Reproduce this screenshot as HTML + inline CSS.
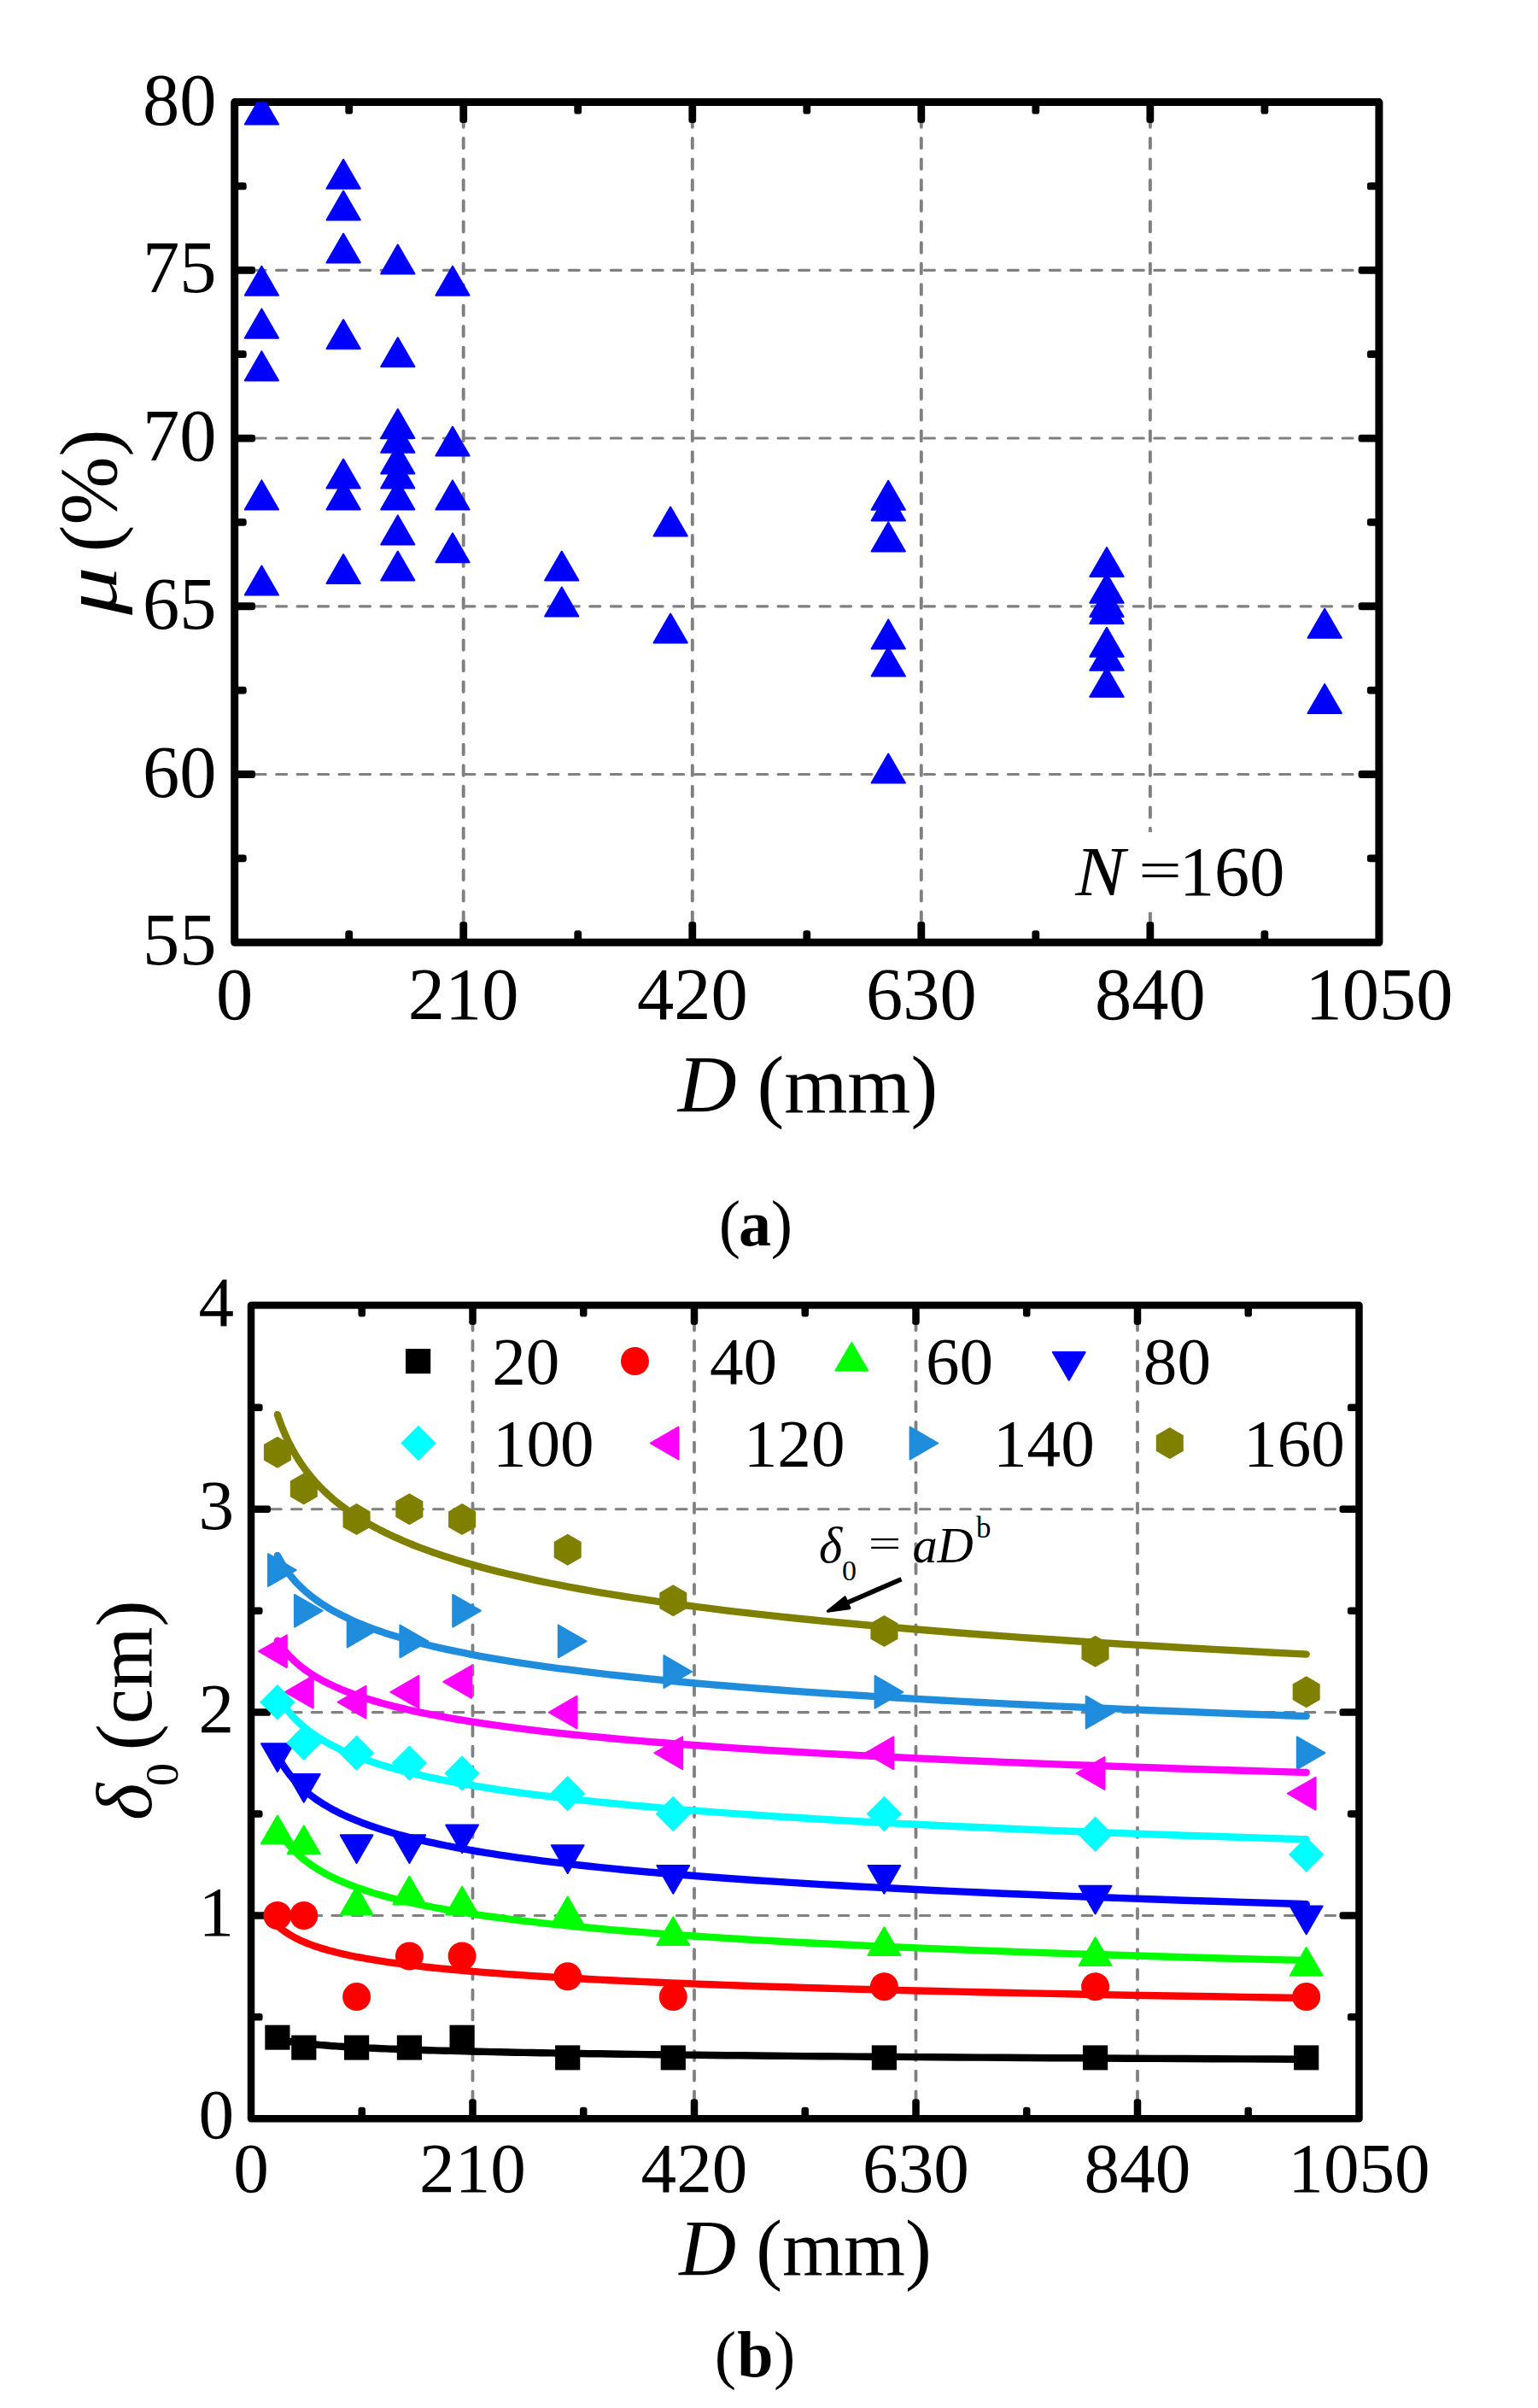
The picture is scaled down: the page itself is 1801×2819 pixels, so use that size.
<!DOCTYPE html>
<html lang="en"><head><meta charset="utf-8"><title>Figure</title>
<style>html,body{margin:0;padding:0;background:#fff}svg{display:block}</style></head>
<body>
<svg width="1801" height="2819" viewBox="0 0 1801 2819" font-family="'Liberation Serif', 'Times New Roman', serif">
<rect width="1801" height="2819" fill="#fff"/>
<defs><clipPath id="ca"><rect x="274.7" y="119.6" width="1340.2" height="983.6"/></clipPath></defs>
<path d="M542.7,137.4V1097.2M810.8,137.4V1097.2M1078.8,137.4V1097.2M1346.9,137.4V1097.2" stroke="#808080" stroke-width="3.90" stroke-dasharray="11.40 13.080" stroke-linecap="round" fill="none"/>
<path d="M274.7,906.5H1608.9M274.7,709.8H1608.9M274.7,513.0H1608.9M274.7,316.3H1608.9" stroke="#808080" stroke-width="3.20" stroke-dasharray="11.90 12.580" stroke-linecap="round" fill="none"/>
<rect x="274.7" y="119.6" width="1340.2" height="983.6" stroke="#000" stroke-width="9" stroke-linejoin="round" fill="none"/>
<g fill="#000">
<rect x="538.34" y="1078.90" width="8.8" height="24.30" rx="3.2"/>
<rect x="538.34" y="119.60" width="8.8" height="24.30" rx="3.2"/>
<rect x="806.38" y="1078.90" width="8.8" height="24.30" rx="3.2"/>
<rect x="806.38" y="119.60" width="8.8" height="24.30" rx="3.2"/>
<rect x="1074.42" y="1078.90" width="8.8" height="24.30" rx="3.2"/>
<rect x="1074.42" y="119.60" width="8.8" height="24.30" rx="3.2"/>
<rect x="1342.46" y="1078.90" width="8.8" height="24.30" rx="3.2"/>
<rect x="1342.46" y="119.60" width="8.8" height="24.30" rx="3.2"/>
<rect x="404.32" y="1089.20" width="8.8" height="14.00" rx="3.2"/>
<rect x="404.32" y="119.60" width="8.8" height="14.00" rx="3.2"/>
<rect x="672.36" y="1089.20" width="8.8" height="14.00" rx="3.2"/>
<rect x="672.36" y="119.60" width="8.8" height="14.00" rx="3.2"/>
<rect x="940.40" y="1089.20" width="8.8" height="14.00" rx="3.2"/>
<rect x="940.40" y="119.60" width="8.8" height="14.00" rx="3.2"/>
<rect x="1208.44" y="1089.20" width="8.8" height="14.00" rx="3.2"/>
<rect x="1208.44" y="119.60" width="8.8" height="14.00" rx="3.2"/>
<rect x="1476.48" y="1089.20" width="8.8" height="14.00" rx="3.2"/>
<rect x="1476.48" y="119.60" width="8.8" height="14.00" rx="3.2"/>
<rect x="274.70" y="902.08" width="24.30" height="8.8" rx="3.2"/>
<rect x="1590.60" y="902.08" width="24.30" height="8.8" rx="3.2"/>
<rect x="274.70" y="705.36" width="24.30" height="8.8" rx="3.2"/>
<rect x="1590.60" y="705.36" width="24.30" height="8.8" rx="3.2"/>
<rect x="274.70" y="508.64" width="24.30" height="8.8" rx="3.2"/>
<rect x="1590.60" y="508.64" width="24.30" height="8.8" rx="3.2"/>
<rect x="274.70" y="311.92" width="24.30" height="8.8" rx="3.2"/>
<rect x="1590.60" y="311.92" width="24.30" height="8.8" rx="3.2"/>
<rect x="274.70" y="1000.44" width="14.00" height="8.8" rx="3.2"/>
<rect x="1600.90" y="1000.44" width="14.00" height="8.8" rx="3.2"/>
<rect x="274.70" y="803.72" width="14.00" height="8.8" rx="3.2"/>
<rect x="1600.90" y="803.72" width="14.00" height="8.8" rx="3.2"/>
<rect x="274.70" y="607.00" width="14.00" height="8.8" rx="3.2"/>
<rect x="1600.90" y="607.00" width="14.00" height="8.8" rx="3.2"/>
<rect x="274.70" y="410.28" width="14.00" height="8.8" rx="3.2"/>
<rect x="1600.90" y="410.28" width="14.00" height="8.8" rx="3.2"/>
<rect x="274.70" y="213.56" width="14.00" height="8.8" rx="3.2"/>
<rect x="1600.90" y="213.56" width="14.00" height="8.8" rx="3.2"/>
</g>
<g fill="#0000ff" stroke="#0000ff" stroke-width="2" stroke-linejoin="round" clip-path="url(#ca)">
<polygon points="306.4,111.6 326.0,145.6 286.8,145.6"/>
<polygon points="306.4,311.7 326.0,345.7 286.8,345.7"/>
<polygon points="306.4,361.7 326.0,395.7 286.8,395.7"/>
<polygon points="306.4,411.4 326.0,445.4 286.8,445.4"/>
<polygon points="306.4,562.4 326.0,596.4 286.8,596.4"/>
<polygon points="306.4,662.6 326.0,696.6 286.8,696.6"/>
<polygon points="402.1,186.7 421.8,220.7 382.5,220.7"/>
<polygon points="402.1,223.5 421.8,257.5 382.5,257.5"/>
<polygon points="402.1,273.5 421.8,307.5 382.5,307.5"/>
<polygon points="402.1,374.3 421.8,408.3 382.5,408.3"/>
<polygon points="402.1,537.6 421.8,571.6 382.5,571.6"/>
<polygon points="402.1,562.4 421.8,596.4 382.5,596.4"/>
<polygon points="402.1,649.1 421.8,683.1 382.5,683.1"/>
<polygon points="465.8,286.6 485.4,320.6 446.2,320.6"/>
<polygon points="465.8,395.3 485.4,429.3 446.2,429.3"/>
<polygon points="465.8,479.0 485.4,513.0 446.2,513.0"/>
<polygon points="465.8,495.7 485.4,529.7 446.2,529.7"/>
<polygon points="465.8,520.5 485.4,554.5 446.2,554.5"/>
<polygon points="465.8,537.6 485.4,571.6 446.2,571.6"/>
<polygon points="465.8,562.4 485.4,596.4 446.2,596.4"/>
<polygon points="465.8,603.4 485.4,637.4 446.2,637.4"/>
<polygon points="465.8,645.5 485.4,679.5 446.2,679.5"/>
<polygon points="530.0,311.7 549.6,345.7 510.4,345.7"/>
<polygon points="530.0,499.6 549.6,533.6 510.4,533.6"/>
<polygon points="530.0,562.4 549.6,596.4 510.4,596.4"/>
<polygon points="530.0,624.3 549.6,658.3 510.4,658.3"/>
<polygon points="657.8,645.6 677.4,679.6 638.1,679.6"/>
<polygon points="657.8,687.6 677.4,721.6 638.1,721.6"/>
<polygon points="785.1,593.5 804.8,627.5 765.5,627.5"/>
<polygon points="785.1,718.5 804.8,752.5 765.5,752.5"/>
<polygon points="1040.2,562.8 1059.9,596.8 1020.6,596.8"/>
<polygon points="1040.2,575.6 1059.9,609.6 1020.6,609.6"/>
<polygon points="1040.2,611.4 1059.9,645.4 1020.6,645.4"/>
<polygon points="1040.2,725.4 1059.9,759.4 1020.6,759.4"/>
<polygon points="1040.2,757.6 1059.9,791.6 1020.6,791.6"/>
<polygon points="1040.2,882.6 1059.9,916.6 1020.6,916.6"/>
<polygon points="1296.0,641.1 1315.7,675.1 1276.3,675.1"/>
<polygon points="1296.0,671.8 1315.7,705.8 1276.3,705.8"/>
<polygon points="1296.0,687.9 1315.7,721.9 1276.3,721.9"/>
<polygon points="1296.0,695.9 1315.7,729.9 1276.3,729.9"/>
<polygon points="1296.0,734.8 1315.7,768.8 1276.3,768.8"/>
<polygon points="1296.0,750.8 1315.7,784.8 1276.3,784.8"/>
<polygon points="1296.0,781.8 1315.7,815.8 1276.3,815.8"/>
<polygon points="1551.2,712.8 1570.9,746.8 1531.5,746.8"/>
<polygon points="1551.2,800.9 1570.9,834.9 1531.5,834.9"/>
</g>
<g font-size="86.5" fill="#000">
<text x="274.7" y="1192.7" text-anchor="middle">0</text>
<text x="542.7" y="1192.7" text-anchor="middle">210</text>
<text x="810.8" y="1192.7" text-anchor="middle">420</text>
<text x="1078.8" y="1192.7" text-anchor="middle">630</text>
<text x="1346.9" y="1192.7" text-anchor="middle">840</text>
<text x="1614.9" y="1192.7" text-anchor="middle">1050</text>
<text x="253.6" y="1129.2" text-anchor="end">55</text>
<text x="253.6" y="932.5" text-anchor="end">60</text>
<text x="253.6" y="735.8" text-anchor="end">65</text>
<text x="253.6" y="539.0" text-anchor="end">70</text>
<text x="253.6" y="342.3" text-anchor="end">75</text>
<text x="253.6" y="145.6" text-anchor="end">80</text>
</g>
<text x="946" y="1302" font-size="95.4" text-anchor="middle"><tspan font-style="italic">D</tspan> (mm)</text>
<g transform="translate(136,720) rotate(-90)" fill="#000"><text transform="scale(1.17,0.93)" x="0" y="0" font-size="96" font-style="italic">μ</text><text x="73.5" y="0" font-size="96">(%)</text></g>
<rect x="1250" y="974.2" width="262" height="93.6" fill="#fff"/>
<g font-size="82.3" fill="#000"><text transform="translate(1259.2,1047.6) scale(1.06,1)" font-style="italic">N</text><text transform="translate(1333.3,1039.5) scale(1.09,0.77)">=</text><text x="1380.9" y="1047.7">160</text></g>
<g font-size="76" fill="#000"><text x="841.7" y="1458">(</text><text x="884" y="1458" font-weight="bold" text-anchor="middle">a</text><text x="928" y="1458" text-anchor="end">)</text></g>
<defs><clipPath id="cb"><rect x="294.0" y="1528.9" width="1297.5" height="951.4"/></clipPath></defs>
<path d="M553.5,1546.2V2474.3M813.0,1546.2V2474.3M1072.5,1546.2V2474.3M1332.0,1546.2V2474.3" stroke="#808080" stroke-width="3.78" stroke-dasharray="11.04 12.700" stroke-linecap="round" fill="none"/>
<path d="M294.0,2242.5H1585.5M294.0,2004.6H1585.5M294.0,1766.8H1585.5" stroke="#808080" stroke-width="3.10" stroke-dasharray="11.52 12.216" stroke-linecap="round" fill="none"/>
<rect x="294.0" y="1528.0" width="1297.5" height="952.3" stroke="#000" stroke-width="8.5" stroke-linejoin="round" fill="none"/>
<g fill="#000">
<rect x="549.25" y="2457.30" width="8.5" height="23.00" rx="3.2"/>
<rect x="549.25" y="1528.00" width="8.5" height="23.00" rx="3.2"/>
<rect x="808.75" y="2457.30" width="8.5" height="23.00" rx="3.2"/>
<rect x="808.75" y="1528.00" width="8.5" height="23.00" rx="3.2"/>
<rect x="1068.25" y="2457.30" width="8.5" height="23.00" rx="3.2"/>
<rect x="1068.25" y="1528.00" width="8.5" height="23.00" rx="3.2"/>
<rect x="1327.75" y="2457.30" width="8.5" height="23.00" rx="3.2"/>
<rect x="1327.75" y="1528.00" width="8.5" height="23.00" rx="3.2"/>
<rect x="419.50" y="2466.70" width="8.5" height="13.60" rx="3.2"/>
<rect x="419.50" y="1528.00" width="8.5" height="13.60" rx="3.2"/>
<rect x="679.00" y="2466.70" width="8.5" height="13.60" rx="3.2"/>
<rect x="679.00" y="1528.00" width="8.5" height="13.60" rx="3.2"/>
<rect x="938.50" y="2466.70" width="8.5" height="13.60" rx="3.2"/>
<rect x="938.50" y="1528.00" width="8.5" height="13.60" rx="3.2"/>
<rect x="1198.00" y="2466.70" width="8.5" height="13.60" rx="3.2"/>
<rect x="1198.00" y="1528.00" width="8.5" height="13.60" rx="3.2"/>
<rect x="1457.50" y="2466.70" width="8.5" height="13.60" rx="3.2"/>
<rect x="1457.50" y="1528.00" width="8.5" height="13.60" rx="3.2"/>
<rect x="294.00" y="2238.20" width="23.00" height="8.5" rx="3.2"/>
<rect x="1568.50" y="2238.20" width="23.00" height="8.5" rx="3.2"/>
<rect x="294.00" y="2000.35" width="23.00" height="8.5" rx="3.2"/>
<rect x="1568.50" y="2000.35" width="23.00" height="8.5" rx="3.2"/>
<rect x="294.00" y="1762.50" width="23.00" height="8.5" rx="3.2"/>
<rect x="1568.50" y="1762.50" width="23.00" height="8.5" rx="3.2"/>
<rect x="294.00" y="2357.12" width="13.60" height="8.5" rx="3.2"/>
<rect x="1577.90" y="2357.12" width="13.60" height="8.5" rx="3.2"/>
<rect x="294.00" y="2119.28" width="13.60" height="8.5" rx="3.2"/>
<rect x="1577.90" y="2119.28" width="13.60" height="8.5" rx="3.2"/>
<rect x="294.00" y="1881.43" width="13.60" height="8.5" rx="3.2"/>
<rect x="1577.90" y="1881.43" width="13.60" height="8.5" rx="3.2"/>
<rect x="294.00" y="1643.58" width="13.60" height="8.5" rx="3.2"/>
<rect x="1577.90" y="1643.58" width="13.60" height="8.5" rx="3.2"/>
</g>
<g clip-path="url(#cb)">
<g fill="#000000" stroke="#000000" stroke-width="0">
<rect x="310.3" y="2370.7" width="29.2" height="29"/>
<rect x="341.2" y="2382.6" width="29.2" height="29"/>
<rect x="403.0" y="2382.6" width="29.2" height="29"/>
<rect x="464.8" y="2382.6" width="29.2" height="29"/>
<rect x="526.5" y="2370.7" width="29.2" height="29"/>
<rect x="650.1" y="2394.4" width="29.2" height="29"/>
<rect x="773.7" y="2394.4" width="29.2" height="29"/>
<rect x="1020.8" y="2394.4" width="29.2" height="29"/>
<rect x="1268.0" y="2394.4" width="29.2" height="29"/>
<rect x="1515.1" y="2394.4" width="29.2" height="29"/>
</g>
<polyline points="324.9,2387.2 325.9,2387.4 326.9,2387.6 327.9,2387.8 328.9,2388.1 330.0,2388.3 331.2,2388.5 332.3,2388.7 333.5,2388.9 334.7,2389.2 336.0,2389.4 337.3,2389.6 338.7,2389.8 340.1,2390.1 341.5,2390.3 343.0,2390.5 344.5,2390.7 346.1,2390.9 347.7,2391.1 349.4,2391.4 351.1,2391.6 352.9,2391.8 354.8,2392.0 356.6,2392.2 358.6,2392.4 360.6,2392.6 362.7,2392.9 364.8,2393.1 367.1,2393.3 369.3,2393.5 371.7,2393.7 374.1,2393.9 376.6,2394.1 379.2,2394.3 381.9,2394.5 384.6,2394.7 387.4,2395.0 390.3,2395.2 393.4,2395.4 396.5,2395.6 399.7,2395.8 403.0,2396.0 406.4,2396.2 409.9,2396.4 413.5,2396.6 417.2,2396.8 421.1,2397.0 425.0,2397.2 429.1,2397.4 433.3,2397.6 437.7,2397.8 442.2,2398.0 446.8,2398.2 451.6,2398.4 456.5,2398.6 461.5,2398.8 466.8,2399.0 472.2,2399.2 477.7,2399.4 483.5,2399.6 489.4,2399.8 495.5,2400.0 501.8,2400.2 508.3,2400.4 514.9,2400.6 521.8,2400.8 529.0,2400.9 536.3,2401.1 543.9,2401.3 551.7,2401.5 559.7,2401.7 568.0,2401.9 576.5,2402.1 585.4,2402.3 594.5,2402.5 603.8,2402.7 613.5,2402.9 623.5,2403.0 633.8,2403.2 644.4,2403.4 655.3,2403.6 666.6,2403.8 678.2,2404.0 690.2,2404.2 702.6,2404.3 715.4,2404.5 728.5,2404.7 742.1,2404.9 756.1,2405.1 770.5,2405.3 785.4,2405.4 800.7,2405.6 816.5,2405.8 832.8,2406.0 849.7,2406.2 867.0,2406.3 884.9,2406.5 903.3,2406.7 922.4,2406.9 942.0,2407.1 962.2,2407.2 983.1,2407.4 1004.6,2407.6 1026.8,2407.8 1049.6,2407.9 1073.2,2408.1 1097.5,2408.3 1122.6,2408.5 1148.5,2408.6 1175.2,2408.8 1202.7,2409.0 1231.1,2409.2 1260.3,2409.3 1290.5,2409.5 1321.6,2409.7 1353.7,2409.9 1386.7,2410.0 1420.9,2410.2 1456.0,2410.4 1492.3,2410.5 1529.7,2410.7" fill="none" stroke="#000000" stroke-width="8.4" stroke-linecap="round" stroke-linejoin="round"/>
<g fill="#ff0000" stroke="#ff0000" stroke-width="0">
<circle cx="324.9" cy="2242.5" r="16.5"/>
<circle cx="355.8" cy="2242.5" r="16.5"/>
<circle cx="417.6" cy="2337.6" r="16.5"/>
<circle cx="479.4" cy="2290.0" r="16.5"/>
<circle cx="541.1" cy="2290.0" r="16.5"/>
<circle cx="664.7" cy="2313.8" r="16.5"/>
<circle cx="788.3" cy="2337.6" r="16.5"/>
<circle cx="1035.4" cy="2325.7" r="16.5"/>
<circle cx="1282.6" cy="2325.7" r="16.5"/>
<circle cx="1529.7" cy="2337.6" r="16.5"/>
</g>
<polyline points="324.9,2254.2 325.9,2255.1 326.9,2256.0 327.9,2256.9 328.9,2257.7 330.0,2258.6 331.2,2259.5 332.3,2260.3 333.5,2261.2 334.7,2262.0 336.0,2262.9 337.3,2263.7 338.7,2264.6 340.1,2265.4 341.5,2266.3 343.0,2267.1 344.5,2267.9 346.1,2268.8 347.7,2269.6 349.4,2270.4 351.1,2271.3 352.9,2272.1 354.8,2272.9 356.6,2273.7 358.6,2274.5 360.6,2275.3 362.7,2276.1 364.8,2276.9 367.1,2277.7 369.3,2278.5 371.7,2279.3 374.1,2280.1 376.6,2280.9 379.2,2281.6 381.9,2282.4 384.6,2283.2 387.4,2284.0 390.3,2284.7 393.4,2285.5 396.5,2286.2 399.7,2287.0 403.0,2287.8 406.4,2288.5 409.9,2289.3 413.5,2290.0 417.2,2290.8 421.1,2291.5 425.0,2292.2 429.1,2293.0 433.3,2293.7 437.7,2294.4 442.2,2295.2 446.8,2295.9 451.6,2296.6 456.5,2297.3 461.5,2298.0 466.8,2298.7 472.2,2299.5 477.7,2300.2 483.5,2300.9 489.4,2301.6 495.5,2302.3 501.8,2303.0 508.3,2303.7 514.9,2304.4 521.8,2305.0 529.0,2305.7 536.3,2306.4 543.9,2307.1 551.7,2307.8 559.7,2308.4 568.0,2309.1 576.5,2309.8 585.4,2310.4 594.5,2311.1 603.8,2311.8 613.5,2312.4 623.5,2313.1 633.8,2313.7 644.4,2314.4 655.3,2315.0 666.6,2315.7 678.2,2316.3 690.2,2317.0 702.6,2317.6 715.4,2318.2 728.5,2318.9 742.1,2319.5 756.1,2320.1 770.5,2320.8 785.4,2321.4 800.7,2322.0 816.5,2322.6 832.8,2323.2 849.7,2323.9 867.0,2324.5 884.9,2325.1 903.3,2325.7 922.4,2326.3 942.0,2326.9 962.2,2327.5 983.1,2328.1 1004.6,2328.7 1026.8,2329.3 1049.6,2329.9 1073.2,2330.5 1097.5,2331.0 1122.6,2331.6 1148.5,2332.2 1175.2,2332.8 1202.7,2333.4 1231.1,2333.9 1260.3,2334.5 1290.5,2335.1 1321.6,2335.7 1353.7,2336.2 1386.7,2336.8 1420.9,2337.3 1456.0,2337.9 1492.3,2338.5 1529.7,2339.0" fill="none" stroke="#ff0000" stroke-width="8.4" stroke-linecap="round" stroke-linejoin="round"/>
<g fill="#00ff00" stroke="#00ff00" stroke-width="0">
<polygon points="324.9,2125.5 343.8,2158.2 306.0,2158.2" stroke-width="2" stroke-linejoin="round"/>
<polygon points="355.8,2137.4 374.7,2170.1 336.9,2170.1" stroke-width="2" stroke-linejoin="round"/>
<polygon points="417.6,2208.7 436.5,2241.5 398.7,2241.5" stroke-width="2" stroke-linejoin="round"/>
<polygon points="479.4,2196.8 498.3,2229.6 460.5,2229.6" stroke-width="2" stroke-linejoin="round"/>
<polygon points="541.1,2208.7 560.0,2241.5 522.2,2241.5" stroke-width="2" stroke-linejoin="round"/>
<polygon points="664.7,2220.6 683.6,2253.4 645.8,2253.4" stroke-width="2" stroke-linejoin="round"/>
<polygon points="788.3,2244.4 807.2,2277.1 769.4,2277.1" stroke-width="2" stroke-linejoin="round"/>
<polygon points="1035.4,2256.3 1054.3,2289.0 1016.5,2289.0" stroke-width="2" stroke-linejoin="round"/>
<polygon points="1282.6,2268.2 1301.5,2300.9 1263.7,2300.9" stroke-width="2" stroke-linejoin="round"/>
<polygon points="1529.7,2280.1 1548.6,2312.8 1510.8,2312.8" stroke-width="2" stroke-linejoin="round"/>
</g>
<polyline points="324.9,2140.0 325.9,2141.7 326.9,2143.4 327.9,2145.1 328.9,2146.8 330.0,2148.5 331.2,2150.2 332.3,2151.9 333.5,2153.5 334.7,2155.2 336.0,2156.8 337.3,2158.4 338.7,2160.1 340.1,2161.7 341.5,2163.3 343.0,2164.9 344.5,2166.5 346.1,2168.1 347.7,2169.7 349.4,2171.2 351.1,2172.8 352.9,2174.4 354.8,2175.9 356.6,2177.4 358.6,2179.0 360.6,2180.5 362.7,2182.0 364.8,2183.5 367.1,2185.0 369.3,2186.5 371.7,2188.0 374.1,2189.5 376.6,2190.9 379.2,2192.4 381.9,2193.9 384.6,2195.3 387.4,2196.7 390.3,2198.2 393.4,2199.6 396.5,2201.0 399.7,2202.4 403.0,2203.8 406.4,2205.2 409.9,2206.6 413.5,2208.0 417.2,2209.4 421.1,2210.8 425.0,2212.1 429.1,2213.5 433.3,2214.8 437.7,2216.2 442.2,2217.5 446.8,2218.8 451.6,2220.1 456.5,2221.5 461.5,2222.8 466.8,2224.1 472.2,2225.4 477.7,2226.7 483.5,2227.9 489.4,2229.2 495.5,2230.5 501.8,2231.7 508.3,2233.0 514.9,2234.2 521.8,2235.5 529.0,2236.7 536.3,2238.0 543.9,2239.2 551.7,2240.4 559.7,2241.6 568.0,2242.8 576.5,2244.0 585.4,2245.2 594.5,2246.4 603.8,2247.6 613.5,2248.8 623.5,2249.9 633.8,2251.1 644.4,2252.3 655.3,2253.4 666.6,2254.6 678.2,2255.7 690.2,2256.8 702.6,2258.0 715.4,2259.1 728.5,2260.2 742.1,2261.3 756.1,2262.4 770.5,2263.5 785.4,2264.6 800.7,2265.7 816.5,2266.8 832.8,2267.9 849.7,2268.9 867.0,2270.0 884.9,2271.1 903.3,2272.1 922.4,2273.2 942.0,2274.2 962.2,2275.3 983.1,2276.3 1004.6,2277.3 1026.8,2278.4 1049.6,2279.4 1073.2,2280.4 1097.5,2281.4 1122.6,2282.4 1148.5,2283.4 1175.2,2284.4 1202.7,2285.4 1231.1,2286.4 1260.3,2287.4 1290.5,2288.3 1321.6,2289.3 1353.7,2290.3 1386.7,2291.2 1420.9,2292.2 1456.0,2293.1 1492.3,2294.1 1529.7,2295.0" fill="none" stroke="#00ff00" stroke-width="8.4" stroke-linecap="round" stroke-linejoin="round"/>
<g fill="#0000ff" stroke="#0000ff" stroke-width="0">
<polygon points="324.9,2074.0 343.8,2041.3 306.0,2041.3" stroke-width="2" stroke-linejoin="round"/>
<polygon points="355.8,2109.7 374.7,2076.9 336.9,2076.9" stroke-width="2" stroke-linejoin="round"/>
<polygon points="417.6,2181.0 436.5,2148.3 398.7,2148.3" stroke-width="2" stroke-linejoin="round"/>
<polygon points="479.4,2181.0 498.3,2148.3 460.5,2148.3" stroke-width="2" stroke-linejoin="round"/>
<polygon points="541.1,2169.1 560.0,2136.4 522.2,2136.4" stroke-width="2" stroke-linejoin="round"/>
<polygon points="664.7,2192.9 683.6,2160.2 645.8,2160.2" stroke-width="2" stroke-linejoin="round"/>
<polygon points="788.3,2216.7 807.2,2184.0 769.4,2184.0" stroke-width="2" stroke-linejoin="round"/>
<polygon points="1035.4,2216.7 1054.3,2184.0 1016.5,2184.0" stroke-width="2" stroke-linejoin="round"/>
<polygon points="1282.6,2240.5 1301.5,2207.8 1263.7,2207.8" stroke-width="2" stroke-linejoin="round"/>
<polygon points="1529.7,2264.3 1548.6,2231.5 1510.8,2231.5" stroke-width="2" stroke-linejoin="round"/>
</g>
<polyline points="324.9,2055.0 325.9,2056.9 326.9,2058.7 327.9,2060.6 328.9,2062.4 330.0,2064.2 331.2,2066.0 332.3,2067.9 333.5,2069.7 334.7,2071.5 336.0,2073.3 337.3,2075.0 338.7,2076.8 340.1,2078.6 341.5,2080.3 343.0,2082.1 344.5,2083.8 346.1,2085.6 347.7,2087.3 349.4,2089.0 351.1,2090.7 352.9,2092.4 354.8,2094.1 356.6,2095.8 358.6,2097.5 360.6,2099.2 362.7,2100.9 364.8,2102.5 367.1,2104.2 369.3,2105.8 371.7,2107.5 374.1,2109.1 376.6,2110.7 379.2,2112.3 381.9,2113.9 384.6,2115.5 387.4,2117.1 390.3,2118.7 393.4,2120.3 396.5,2121.9 399.7,2123.5 403.0,2125.0 406.4,2126.6 409.9,2128.1 413.5,2129.7 417.2,2131.2 421.1,2132.7 425.0,2134.3 429.1,2135.8 433.3,2137.3 437.7,2138.8 442.2,2140.3 446.8,2141.8 451.6,2143.2 456.5,2144.7 461.5,2146.2 466.8,2147.7 472.2,2149.1 477.7,2150.6 483.5,2152.0 489.4,2153.4 495.5,2154.9 501.8,2156.3 508.3,2157.7 514.9,2159.1 521.8,2160.5 529.0,2161.9 536.3,2163.3 543.9,2164.7 551.7,2166.1 559.7,2167.5 568.0,2168.8 576.5,2170.2 585.4,2171.6 594.5,2172.9 603.8,2174.3 613.5,2175.6 623.5,2176.9 633.8,2178.3 644.4,2179.6 655.3,2180.9 666.6,2182.2 678.2,2183.5 690.2,2184.8 702.6,2186.1 715.4,2187.4 728.5,2188.7 742.1,2190.0 756.1,2191.2 770.5,2192.5 785.4,2193.8 800.7,2195.0 816.5,2196.3 832.8,2197.5 849.7,2198.7 867.0,2200.0 884.9,2201.2 903.3,2202.4 922.4,2203.6 942.0,2204.9 962.2,2206.1 983.1,2207.3 1004.6,2208.5 1026.8,2209.6 1049.6,2210.8 1073.2,2212.0 1097.5,2213.2 1122.6,2214.4 1148.5,2215.5 1175.2,2216.7 1202.7,2217.8 1231.1,2219.0 1260.3,2220.1 1290.5,2221.3 1321.6,2222.4 1353.7,2223.5 1386.7,2224.7 1420.9,2225.8 1456.0,2226.9 1492.3,2228.0 1529.7,2229.1" fill="none" stroke="#0000ff" stroke-width="8.4" stroke-linecap="round" stroke-linejoin="round"/>
<g fill="#808000" stroke="#808000" stroke-width="0">
<polygon points="324.9,1681.7 308.9,1690.9 308.9,1709.4 324.9,1718.7 340.9,1709.4 340.9,1690.9"/>
<polygon points="355.8,1724.5 339.8,1733.7 339.8,1752.2 355.8,1761.5 371.8,1752.2 371.8,1733.7"/>
<polygon points="417.6,1760.1 401.5,1769.4 401.5,1787.9 417.6,1797.1 433.6,1787.9 433.6,1769.4"/>
<polygon points="479.4,1748.2 463.3,1757.5 463.3,1776.0 479.4,1785.2 495.4,1776.0 495.4,1757.5"/>
<polygon points="541.1,1760.1 525.1,1769.4 525.1,1787.9 541.1,1797.1 557.2,1787.9 557.2,1769.4"/>
<polygon points="664.7,1795.8 648.7,1805.1 648.7,1823.6 664.7,1832.8 680.7,1823.6 680.7,1805.1"/>
<polygon points="788.3,1855.3 772.3,1864.5 772.3,1883.0 788.3,1892.3 804.3,1883.0 804.3,1864.5"/>
<polygon points="1035.4,1891.0 1019.4,1900.2 1019.4,1918.7 1035.4,1928.0 1051.5,1918.7 1051.5,1900.2"/>
<polygon points="1282.6,1914.7 1266.5,1924.0 1266.5,1942.5 1282.6,1951.7 1298.6,1942.5 1298.6,1924.0"/>
<polygon points="1529.7,1962.3 1513.7,1971.6 1513.7,1990.1 1529.7,1999.3 1545.7,1990.1 1545.7,1971.6"/>
</g>
<polyline points="324.9,1656.0 325.9,1658.8 326.9,1661.7 327.9,1664.5 328.9,1667.3 330.0,1670.1 331.2,1672.9 332.3,1675.7 333.5,1678.5 334.7,1681.3 336.0,1684.1 337.3,1686.8 338.7,1689.6 340.1,1692.3 341.5,1695.0 343.0,1697.7 344.5,1700.4 346.1,1703.1 347.7,1705.8 349.4,1708.5 351.1,1711.2 352.9,1713.9 354.8,1716.5 356.6,1719.2 358.6,1721.8 360.6,1724.4 362.7,1727.0 364.8,1729.6 367.1,1732.2 369.3,1734.8 371.7,1737.4 374.1,1740.0 376.6,1742.5 379.2,1745.1 381.9,1747.6 384.6,1750.2 387.4,1752.7 390.3,1755.2 393.4,1757.7 396.5,1760.2 399.7,1762.7 403.0,1765.2 406.4,1767.7 409.9,1770.1 413.5,1772.6 417.2,1775.1 421.1,1777.5 425.0,1779.9 429.1,1782.4 433.3,1784.8 437.7,1787.2 442.2,1789.6 446.8,1792.0 451.6,1794.4 456.5,1796.7 461.5,1799.1 466.8,1801.4 472.2,1803.8 477.7,1806.1 483.5,1808.5 489.4,1810.8 495.5,1813.1 501.8,1815.4 508.3,1817.7 514.9,1820.0 521.8,1822.3 529.0,1824.6 536.3,1826.9 543.9,1829.1 551.7,1831.4 559.7,1833.6 568.0,1835.9 576.5,1838.1 585.4,1840.3 594.5,1842.5 603.8,1844.7 613.5,1846.9 623.5,1849.1 633.8,1851.3 644.4,1853.5 655.3,1855.7 666.6,1857.8 678.2,1860.0 690.2,1862.1 702.6,1864.3 715.4,1866.4 728.5,1868.5 742.1,1870.6 756.1,1872.7 770.5,1874.9 785.4,1876.9 800.7,1879.0 816.5,1881.1 832.8,1883.2 849.7,1885.3 867.0,1887.3 884.9,1889.4 903.3,1891.4 922.4,1893.5 942.0,1895.5 962.2,1897.5 983.1,1899.5 1004.6,1901.5 1026.8,1903.5 1049.6,1905.5 1073.2,1907.5 1097.5,1909.5 1122.6,1911.5 1148.5,1913.5 1175.2,1915.4 1202.7,1917.4 1231.1,1919.3 1260.3,1921.3 1290.5,1923.2 1321.6,1925.1 1353.7,1927.0 1386.7,1929.0 1420.9,1930.9 1456.0,1932.8 1492.3,1934.7 1529.7,1936.6" fill="none" stroke="#808000" stroke-width="8.4" stroke-linecap="round" stroke-linejoin="round"/>
<g fill="#1f8cdc" stroke="#1f8cdc" stroke-width="0">
<polygon points="346.7,1838.1 314.0,1819.2 314.0,1857.0" stroke-width="2" stroke-linejoin="round"/>
<polygon points="377.6,1885.7 344.9,1866.8 344.9,1904.6" stroke-width="2" stroke-linejoin="round"/>
<polygon points="439.4,1909.5 406.7,1890.6 406.7,1928.4" stroke-width="2" stroke-linejoin="round"/>
<polygon points="501.2,1921.4 468.4,1902.5 468.4,1940.3" stroke-width="2" stroke-linejoin="round"/>
<polygon points="563.0,1885.7 530.2,1866.8 530.2,1904.6" stroke-width="2" stroke-linejoin="round"/>
<polygon points="686.5,1921.4 653.8,1902.5 653.8,1940.3" stroke-width="2" stroke-linejoin="round"/>
<polygon points="810.1,1957.0 777.4,1938.1 777.4,1975.9" stroke-width="2" stroke-linejoin="round"/>
<polygon points="1057.3,1980.8 1024.5,1961.9 1024.5,1999.7" stroke-width="2" stroke-linejoin="round"/>
<polygon points="1304.4,2004.6 1271.7,1985.7 1271.7,2023.5" stroke-width="2" stroke-linejoin="round"/>
<polygon points="1551.5,2052.2 1518.8,2033.3 1518.8,2071.1" stroke-width="2" stroke-linejoin="round"/>
</g>
<polyline points="324.9,1820.9 325.9,1822.8 326.9,1824.6 327.9,1826.4 328.9,1828.3 330.0,1830.1 331.2,1831.9 332.3,1833.7 333.5,1835.5 334.7,1837.3 336.0,1839.1 337.3,1840.9 338.7,1842.7 340.1,1844.5 341.5,1846.3 343.0,1848.0 344.5,1849.8 346.1,1851.6 347.7,1853.3 349.4,1855.1 351.1,1856.8 352.9,1858.6 354.8,1860.3 356.6,1862.0 358.6,1863.8 360.6,1865.5 362.7,1867.2 364.8,1868.9 367.1,1870.6 369.3,1872.3 371.7,1874.0 374.1,1875.7 376.6,1877.4 379.2,1879.1 381.9,1880.8 384.6,1882.5 387.4,1884.1 390.3,1885.8 393.4,1887.5 396.5,1889.1 399.7,1890.8 403.0,1892.4 406.4,1894.1 409.9,1895.7 413.5,1897.4 417.2,1899.0 421.1,1900.6 425.0,1902.2 429.1,1903.8 433.3,1905.5 437.7,1907.1 442.2,1908.7 446.8,1910.3 451.6,1911.9 456.5,1913.5 461.5,1915.0 466.8,1916.6 472.2,1918.2 477.7,1919.8 483.5,1921.3 489.4,1922.9 495.5,1924.5 501.8,1926.0 508.3,1927.6 514.9,1929.1 521.8,1930.6 529.0,1932.2 536.3,1933.7 543.9,1935.2 551.7,1936.8 559.7,1938.3 568.0,1939.8 576.5,1941.3 585.4,1942.8 594.5,1944.3 603.8,1945.8 613.5,1947.3 623.5,1948.8 633.8,1950.3 644.4,1951.8 655.3,1953.3 666.6,1954.7 678.2,1956.2 690.2,1957.7 702.6,1959.1 715.4,1960.6 728.5,1962.0 742.1,1963.5 756.1,1964.9 770.5,1966.4 785.4,1967.8 800.7,1969.2 816.5,1970.7 832.8,1972.1 849.7,1973.5 867.0,1974.9 884.9,1976.4 903.3,1977.8 922.4,1979.2 942.0,1980.6 962.2,1982.0 983.1,1983.4 1004.6,1984.7 1026.8,1986.1 1049.6,1987.5 1073.2,1988.9 1097.5,1990.3 1122.6,1991.6 1148.5,1993.0 1175.2,1994.4 1202.7,1995.7 1231.1,1997.1 1260.3,1998.4 1290.5,1999.8 1321.6,2001.1 1353.7,2002.5 1386.7,2003.8 1420.9,2005.1 1456.0,2006.5 1492.3,2007.8 1529.7,2009.1" fill="none" stroke="#1f8cdc" stroke-width="8.4" stroke-linecap="round" stroke-linejoin="round"/>
<g fill="#ff00ff" stroke="#ff00ff" stroke-width="0">
<polygon points="303.1,1933.2 335.8,1914.3 335.8,1952.1" stroke-width="2" stroke-linejoin="round"/>
<polygon points="334.0,1980.8 366.7,1961.9 366.7,1999.7" stroke-width="2" stroke-linejoin="round"/>
<polygon points="395.7,1992.7 428.5,1973.8 428.5,2011.6" stroke-width="2" stroke-linejoin="round"/>
<polygon points="457.5,1980.8 490.3,1961.9 490.3,1999.7" stroke-width="2" stroke-linejoin="round"/>
<polygon points="519.3,1968.9 552.1,1950.0 552.1,1987.8" stroke-width="2" stroke-linejoin="round"/>
<polygon points="642.9,2004.6 675.6,1985.7 675.6,2023.5" stroke-width="2" stroke-linejoin="round"/>
<polygon points="766.5,2052.2 799.2,2033.3 799.2,2071.1" stroke-width="2" stroke-linejoin="round"/>
<polygon points="1013.6,2052.2 1046.3,2033.3 1046.3,2071.1" stroke-width="2" stroke-linejoin="round"/>
<polygon points="1260.7,2076.0 1293.5,2057.1 1293.5,2094.9" stroke-width="2" stroke-linejoin="round"/>
<polygon points="1507.9,2099.7 1540.6,2080.8 1540.6,2118.6" stroke-width="2" stroke-linejoin="round"/>
</g>
<polyline points="324.9,1920.7 325.9,1922.2 326.9,1923.7 327.9,1925.2 328.9,1926.7 330.0,1928.2 331.2,1929.6 332.3,1931.1 333.5,1932.6 334.7,1934.1 336.0,1935.5 337.3,1937.0 338.7,1938.5 340.1,1939.9 341.5,1941.4 343.0,1942.8 344.5,1944.3 346.1,1945.7 347.7,1947.1 349.4,1948.6 351.1,1950.0 352.9,1951.4 354.8,1952.8 356.6,1954.3 358.6,1955.7 360.6,1957.1 362.7,1958.5 364.8,1959.9 367.1,1961.3 369.3,1962.7 371.7,1964.1 374.1,1965.4 376.6,1966.8 379.2,1968.2 381.9,1969.6 384.6,1971.0 387.4,1972.3 390.3,1973.7 393.4,1975.0 396.5,1976.4 399.7,1977.8 403.0,1979.1 406.4,1980.5 409.9,1981.8 413.5,1983.1 417.2,1984.5 421.1,1985.8 425.0,1987.1 429.1,1988.5 433.3,1989.8 437.7,1991.1 442.2,1992.4 446.8,1993.7 451.6,1995.0 456.5,1996.3 461.5,1997.6 466.8,1998.9 472.2,2000.2 477.7,2001.5 483.5,2002.8 489.4,2004.1 495.5,2005.4 501.8,2006.6 508.3,2007.9 514.9,2009.2 521.8,2010.4 529.0,2011.7 536.3,2013.0 543.9,2014.2 551.7,2015.5 559.7,2016.7 568.0,2018.0 576.5,2019.2 585.4,2020.4 594.5,2021.7 603.8,2022.9 613.5,2024.1 623.5,2025.4 633.8,2026.6 644.4,2027.8 655.3,2029.0 666.6,2030.2 678.2,2031.4 690.2,2032.6 702.6,2033.8 715.4,2035.0 728.5,2036.2 742.1,2037.4 756.1,2038.6 770.5,2039.8 785.4,2041.0 800.7,2042.2 816.5,2043.3 832.8,2044.5 849.7,2045.7 867.0,2046.9 884.9,2048.0 903.3,2049.2 922.4,2050.3 942.0,2051.5 962.2,2052.6 983.1,2053.8 1004.6,2054.9 1026.8,2056.1 1049.6,2057.2 1073.2,2058.4 1097.5,2059.5 1122.6,2060.6 1148.5,2061.7 1175.2,2062.9 1202.7,2064.0 1231.1,2065.1 1260.3,2066.2 1290.5,2067.3 1321.6,2068.4 1353.7,2069.5 1386.7,2070.7 1420.9,2071.8 1456.0,2072.8 1492.3,2073.9 1529.7,2075.0" fill="none" stroke="#ff00ff" stroke-width="8.4" stroke-linecap="round" stroke-linejoin="round"/>
<g fill="#00ffff" stroke="#00ffff" stroke-width="0">
<polygon points="324.9,1972.0 345.6,1992.7 324.9,2013.4 304.2,1992.7"/>
<polygon points="355.8,2019.6 376.5,2040.3 355.8,2061.0 335.1,2040.3"/>
<polygon points="417.6,2031.5 438.3,2052.2 417.6,2072.9 396.9,2052.2"/>
<polygon points="479.4,2043.4 500.1,2064.1 479.4,2084.8 458.7,2064.1"/>
<polygon points="541.1,2055.3 561.8,2076.0 541.1,2096.7 520.4,2076.0"/>
<polygon points="664.7,2079.0 685.4,2099.7 664.7,2120.4 644.0,2099.7"/>
<polygon points="788.3,2102.8 809.0,2123.5 788.3,2144.2 767.6,2123.5"/>
<polygon points="1035.4,2102.8 1056.1,2123.5 1035.4,2144.2 1014.7,2123.5"/>
<polygon points="1282.6,2126.6 1303.3,2147.3 1282.6,2168.0 1261.9,2147.3"/>
<polygon points="1529.7,2150.4 1550.4,2171.1 1529.7,2191.8 1509.0,2171.1"/>
</g>
<polyline points="324.9,1984.2 325.9,1986.0 326.9,1987.7 327.9,1989.4 328.9,1991.1 330.0,1992.8 331.2,1994.5 332.3,1996.1 333.5,1997.8 334.7,1999.5 336.0,2001.2 337.3,2002.8 338.7,2004.5 340.1,2006.1 341.5,2007.8 343.0,2009.4 344.5,2011.0 346.1,2012.7 347.7,2014.3 349.4,2015.9 351.1,2017.5 352.9,2019.1 354.8,2020.7 356.6,2022.3 358.6,2023.9 360.6,2025.5 362.7,2027.0 364.8,2028.6 367.1,2030.2 369.3,2031.7 371.7,2033.3 374.1,2034.8 376.6,2036.4 379.2,2037.9 381.9,2039.5 384.6,2041.0 387.4,2042.5 390.3,2044.0 393.4,2045.5 396.5,2047.1 399.7,2048.6 403.0,2050.0 406.4,2051.5 409.9,2053.0 413.5,2054.5 417.2,2056.0 421.1,2057.5 425.0,2058.9 429.1,2060.4 433.3,2061.8 437.7,2063.3 442.2,2064.7 446.8,2066.2 451.6,2067.6 456.5,2069.0 461.5,2070.5 466.8,2071.9 472.2,2073.3 477.7,2074.7 483.5,2076.1 489.4,2077.5 495.5,2078.9 501.8,2080.3 508.3,2081.7 514.9,2083.1 521.8,2084.4 529.0,2085.8 536.3,2087.2 543.9,2088.5 551.7,2089.9 559.7,2091.3 568.0,2092.6 576.5,2094.0 585.4,2095.3 594.5,2096.6 603.8,2098.0 613.5,2099.3 623.5,2100.6 633.8,2101.9 644.4,2103.2 655.3,2104.5 666.6,2105.8 678.2,2107.1 690.2,2108.4 702.6,2109.7 715.4,2111.0 728.5,2112.3 742.1,2113.6 756.1,2114.8 770.5,2116.1 785.4,2117.4 800.7,2118.6 816.5,2119.9 832.8,2121.1 849.7,2122.4 867.0,2123.6 884.9,2124.8 903.3,2126.1 922.4,2127.3 942.0,2128.5 962.2,2129.7 983.1,2131.0 1004.6,2132.2 1026.8,2133.4 1049.6,2134.6 1073.2,2135.8 1097.5,2137.0 1122.6,2138.2 1148.5,2139.3 1175.2,2140.5 1202.7,2141.7 1231.1,2142.9 1260.3,2144.0 1290.5,2145.2 1321.6,2146.4 1353.7,2147.5 1386.7,2148.7 1420.9,2149.8 1456.0,2151.0 1492.3,2152.1 1529.7,2153.3" fill="none" stroke="#00ffff" stroke-width="8.4" stroke-linecap="round" stroke-linejoin="round"/>
</g>
<g font-size="79.2" fill="#000">
<g fill="#000000" stroke="#000000" stroke-width="0"><rect x="475.0" y="1579.0" width="29.2" height="29"/></g>
<g fill="#ff0000" stroke="#ff0000" stroke-width="0"><circle cx="743.5" cy="1593.5" r="16.5"/></g>
<g fill="#00ff00" stroke="#00ff00" stroke-width="0"><polygon points="997.3,1571.9 1016.2,1604.6 978.4,1604.6" stroke-width="2" stroke-linejoin="round"/></g>
<g fill="#0000ff" stroke="#0000ff" stroke-width="0"><polygon points="1251.8,1615.7 1270.7,1583.0 1232.9,1583.0" stroke-width="2" stroke-linejoin="round"/></g>
<text x="576.2" y="1620">20</text>
<text x="831.0" y="1620">40</text>
<text x="1084.0" y="1620">60</text>
<text x="1338.8" y="1620">80</text>
<g fill="#00ffff" stroke="#00ffff" stroke-width="0"><polygon points="490.0,1668.8 510.7,1689.5 490.0,1710.2 469.3,1689.5"/></g>
<g fill="#ff00ff" stroke="#ff00ff" stroke-width="0"><polygon points="761.8,1689.5 794.5,1670.6 794.5,1708.4" stroke-width="2" stroke-linejoin="round"/></g>
<g fill="#1f8cdc" stroke="#1f8cdc" stroke-width="0"><polygon points="1098.3,1689.5 1065.6,1670.6 1065.6,1708.4" stroke-width="2" stroke-linejoin="round"/></g>
<g fill="#808000" stroke="#808000" stroke-width="0"><polygon points="1369.8,1671.0 1353.8,1680.2 1353.8,1698.8 1369.8,1708.0 1385.8,1698.8 1385.8,1680.2"/></g>
<text x="576.9" y="1715.6">100</text>
<text x="870.7" y="1715.6">120</text>
<text x="1163.0" y="1715.6">140</text>
<text x="1456.1" y="1715.6">160</text>
</g>
<g fill="#000">
<text x="959" y="1829.3" font-size="58.5" font-style="italic">δ</text>
<text x="986" y="1850.4" font-size="34">0</text>
<text transform="translate(1016.8,1822.2) scale(1.17,0.78)" x="0" y="0" font-size="58.5">=</text>
<text x="1068.5" y="1829.3" font-size="58.5" font-style="italic">a</text>
<text x="1097.5" y="1829.3" font-size="58.5" font-style="italic">D</text>
<text x="1143" y="1799.7" font-size="35">b</text>
</g>
<line x1="1055.5" y1="1848.8" x2="984.4" y2="1879.6" stroke="#000" stroke-width="5.6" stroke-linecap="butt"/>
<polygon points="969.3,1886.2 989.4,1869.8 995.0,1882.7" fill="#000" stroke="#000" stroke-width="3" stroke-linejoin="round"/>
<g font-size="83.2" fill="#000">
<text x="294.0" y="2565.6" text-anchor="middle">0</text>
<text x="553.5" y="2565.6" text-anchor="middle">210</text>
<text x="813.0" y="2565.6" text-anchor="middle">420</text>
<text x="1072.5" y="2565.6" text-anchor="middle">630</text>
<text x="1332.0" y="2565.6" text-anchor="middle">840</text>
<text x="1591.5" y="2565.6" text-anchor="middle">1050</text>
<text x="274" y="2503.4" text-anchor="end">0</text>
<text x="274" y="2265.6" text-anchor="end">1</text>
<text x="274" y="2027.7" text-anchor="end">2</text>
<text x="274" y="1789.8" text-anchor="end">3</text>
<text x="274" y="1552.0" text-anchor="end">4</text>
</g>
<text x="943" y="2663.4" font-size="92.6" text-anchor="middle"><tspan font-style="italic">D</tspan> (mm)</text>
<g transform="translate(176.5,2131) rotate(-90)" fill="#000"><text x="0" y="0" font-size="93" font-style="italic">δ</text><text x="40" y="31.5" font-size="54">0</text><text x="81.8" y="0" font-size="93">(cm)</text></g>
<g font-size="76" fill="#000"><text x="836.8" y="2781.7">(</text><text x="884.5" y="2781.7" font-weight="bold" text-anchor="middle">b</text><text x="931.2" y="2781.7" text-anchor="end">)</text></g>
</svg>
</body></html>
